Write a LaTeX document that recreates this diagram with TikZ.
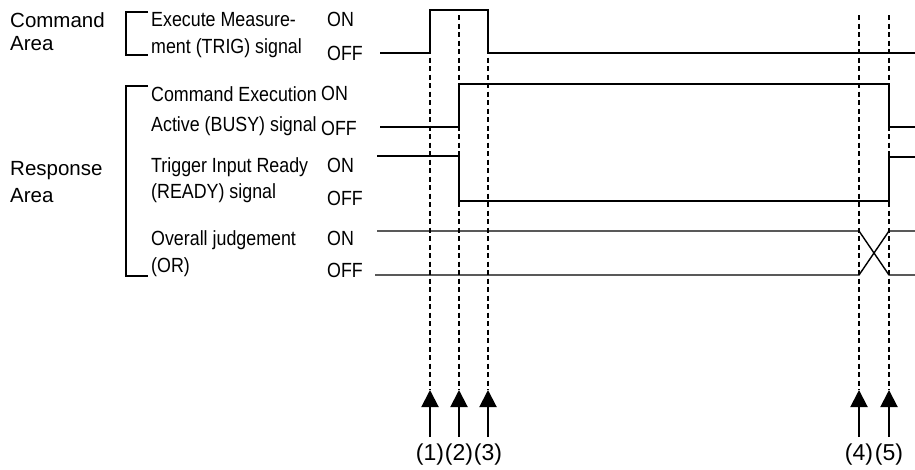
\documentclass[tikz,border=0pt]{standalone}
\usepackage{fontspec}
\setmainfont{Liberation Sans}
\newfontfamily\narrowsans[FakeStretch=0.87]{Liberation Sans}
\usetikzlibrary{arrows.meta}
\begin{document}
\begin{tikzpicture}[x=1pt,y=-1pt,
  sig/.style={line width=1.4pt, line join=miter},
  guide/.style={line width=1.4pt, dash pattern=on 5pt off 3.5pt},
  brk/.style={line width=1.8pt, line join=miter},
  arealbl/.style={anchor=base west, inner sep=0pt, font=\fontsize{20.5}{24}\selectfont},
  lbl/.style={anchor=base west, inner sep=0pt, font=\narrowsans\fontsize{20.5}{25}\selectfont},
  evarrow/.style={line width=2pt, -{Triangle[length=17pt,width=17pt]}},
  num/.style={anchor=base, inner sep=0pt, font=\fontsize{23}{27}\selectfont}]
\useasboundingbox (0,0) rectangle (915,469);
% area labels
\node[arealbl] (cmd1) at (10,27) {Command};
\node[arealbl] (cmd2) at (10,50) {Area};
\node[arealbl] (rsp1) at (10,175) {Response};
\node[arealbl] (rsp2) at (10,202) {Area};
% brackets
\draw[brk] (148,12) -- (126,12) -- (126,55) -- (148,55);
\draw[brk] (148,86) -- (126,86) -- (126,276) -- (148,276);
% signal names
\node[lbl] (trig1) at (151,26) {Execute Measure-};
\node[lbl] (trig2) at (151,53) {ment (TRIG) signal};
\node[lbl] (trigon) at (327,26) {ON};
\node[lbl] (trigoff) at (327,60) {OFF};
\node[lbl] (busy1) at (151,101) {Command Execution};
\node[lbl] (busy2) at (151,131) {Active (BUSY) signal};
\node[lbl] (busyon) at (321,100) {ON};
\node[lbl] (busyoff) at (321,135) {OFF};
\node[lbl] (rdy1) at (151,172) {Trigger Input Ready};
\node[lbl] (rdy2) at (151,198) {(READY) signal};
\node[lbl] (rdyon) at (327,172) {ON};
\node[lbl] (rdyoff) at (327,205) {OFF};
\node[lbl] (or1) at (151,245) {Overall judgement};
\node[lbl] (or2) at (151,272) {(OR)};
\node[lbl] (oron) at (327,245) {ON};
\node[lbl] (oroff) at (327,277) {OFF};
% waveforms
\draw[sig] (380,53) -- (430,53) -- (430,10) -- (488,10) -- (488,53) -- (915,53);
\draw[sig] (380,127) -- (459,127) -- (459,84) -- (889,84) -- (889,127) -- (915,127);
\draw[sig] (377,156) -- (459,156) -- (459,201) -- (889,201) -- (889,157) -- (915,157);
\draw[sig] (377,231) -- (859,231) -- (889,275) -- (915,275);
\draw[sig] (375,275) -- (859,275) -- (889,231) -- (915,231);
% timing markers
\foreach \i/\x in {1/430,2/459,3/488,4/859,5/889} {
  \coordinate (top\i) at (\x,15);
  \coordinate (tip\i) at (\x,390);
  \coordinate (base\i) at (\x,437);
  \draw[guide] (top\i) -- (tip\i);
  \draw[evarrow] (base\i) -- (tip\i);
  \node[num] (lab\i) at (\x,460) {(\i)};
}
\end{tikzpicture}
\end{document}
